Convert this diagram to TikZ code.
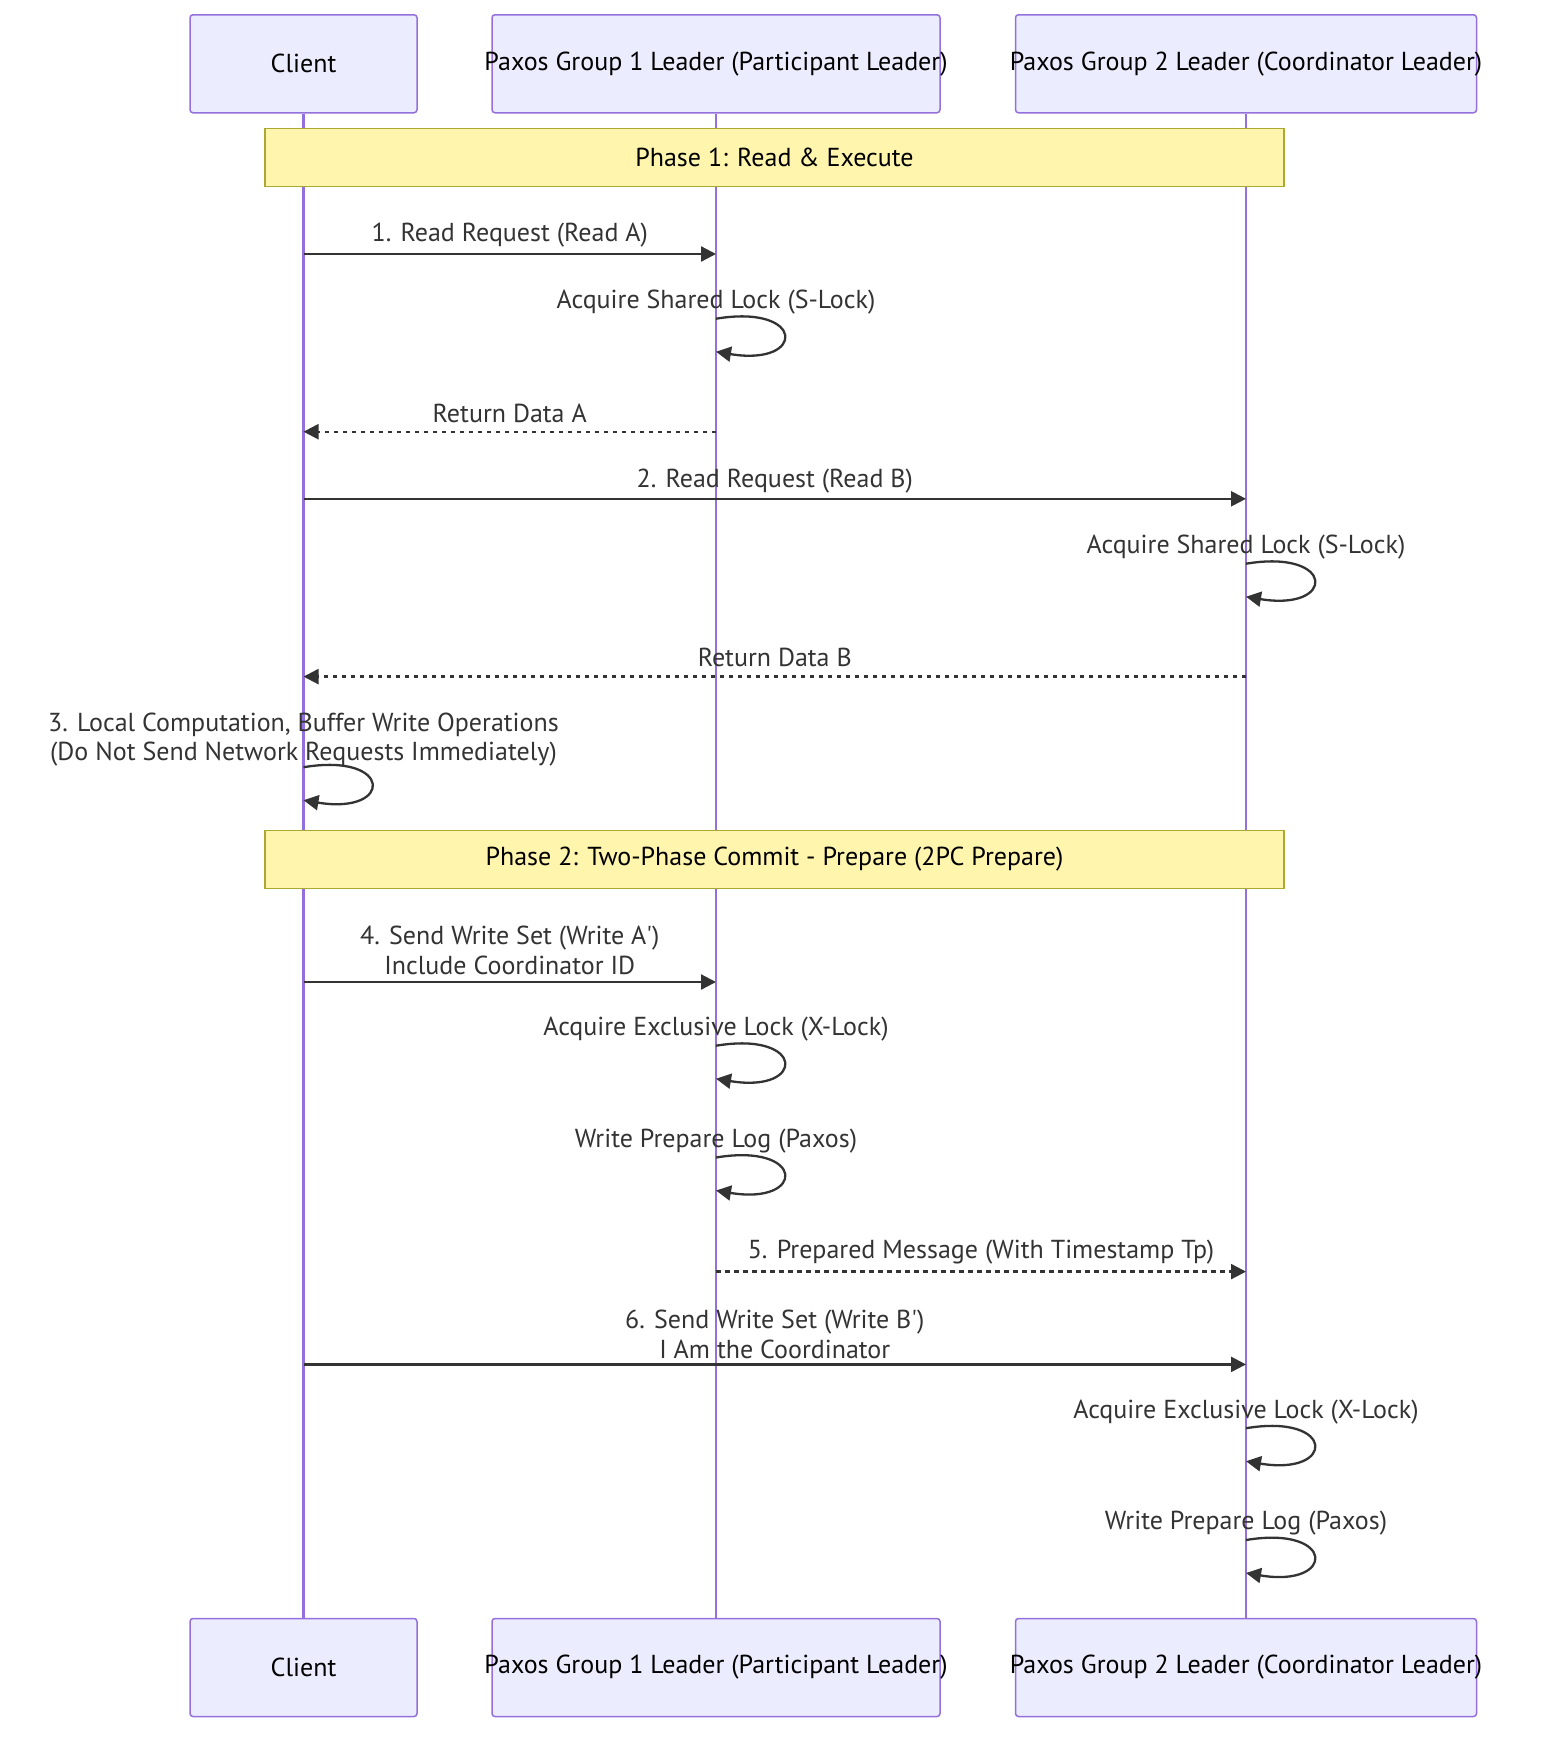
\documentclass[tikz,border=0pt]{standalone}
\usepackage{fontspec}
\setmainfont{PT Sans}
\usetikzlibrary{arrows.meta,positioning,calc}
\definecolor{actfill}{HTML}{ECECFF}
\definecolor{actline}{HTML}{9370DB}
\definecolor{notefill}{HTML}{FFF5AD}
\definecolor{noteline}{HTML}{AAAA33}
\definecolor{msgcol}{HTML}{333333}
\newcommand\lblfont{\fontsize{26}{29.5}\selectfont}
\newcommand\actname[1]{\makebox[0pt]{#1}} % はみ出しても箱の幅は変えない

\begin{document}
\begin{tikzpicture}[x=1pt,y=-1pt,
  actor/.style={draw=actline,fill=actfill,line width=1.5pt,rounded corners=3pt,minimum height=98pt,inner sep=0pt,font=\lblfont},
  note/.style={draw=noteline,fill=notefill,line width=1.5pt,minimum width=1019pt,minimum height=58pt,inner sep=0pt,font=\lblfont},
  lifeline/.style={draw=actline,line width=2.6pt},
  lbl/.style={text=msgcol,font=\lblfont,inner sep=0pt,yshift=-2.5pt},
  msg/.style={draw=msgcol,line width=2.3pt,-{Triangle[length=15pt,width=15pt]}},
  reply/.style={msg,dash pattern=on 4.5pt off 4.5pt}]
  \useasboundingbox (0,0) rectangle (1568,1754); % 画像全体の大きさ
  \node[actor,minimum width=227pt] (clT) at (303.5,63.75) {\actname{Client}}; % 上側の参加者
  \node[actor,minimum width=448pt] (paT) at (716,63.75) {\actname{Paxos Group 1 Leader (Participant Leader)}};
  \node[actor,minimum width=461pt] (pbT) at (1246,63.75) {\actname{Paxos Group 2 Leader (Coordinator Leader)}};
  \node[actor,minimum width=227pt] (clB) at (303.5,1667.5) {\actname{Client}}; % 下側の参加者
  \node[actor,minimum width=448pt] (paB) at (716,1667.5) {\actname{Paxos Group 1 Leader (Participant Leader)}};
  \node[actor,minimum width=461pt] (pbB) at (1246,1667.5) {\actname{Paxos Group 2 Leader (Coordinator Leader)}};
  \draw[lifeline] (clT) -- (clB); % ライフライン
  \draw[lifeline] (paT) -- (paB);
  \draw[lifeline] (pbT) -- (pbB);
  \node[note] (ph1) at (774.5,157.7) {Phase 1: Read \& Execute}; % フェーズの注記
  \node[note] (ph2) at (774.5,859.5) {Phase 2: Two-Phase Commit - Prepare (2PC Prepare)};
  \node[lbl] (m1) at (509.75,232.6) {1. Read Request (Read A)};
  \draw[msg] (clT |- 0,254) -- (paT |- 0,254);
  \node[lbl] (m2) at (509.75,410.5) {Return Data A};
  \draw[reply] (paT |- 0,431.7) -- (clT |- 0,431.7); % 破線は応答
  \node[lbl] (m3) at (774.75,478.7) {2. Read Request (Read B)};
  \draw[msg] (clT |- 0,498.8) -- (pbT |- 0,498.8);
  \node[lbl] (m4) at (774.75,655.4) {Return Data B};
  \draw[reply] (pbT |- 0,676.6) -- (clT |- 0,676.6);
  \node[lbl,align=center] (m5) at (303.5,737) {3. Local Computation, Buffer Write Operations\\(Do Not Send Network Requests Immediately)};
  \draw[msg] (clT |- 0,767.2) .. controls +(90,-15) and +(90,15) .. (clT |- 0,800.2); % 自分への矢印
  \node[lbl,align=center] (m6) at (509.75,948) {4. Send Write Set (Write A\textquotesingle)\\Include Coordinator ID};
  \draw[msg] (clT |- 0,982) -- (paT |- 0,982);
  \node[lbl] (m7) at (981,1249.2) {5. Prepared Message (With Timestamp Tp)};
  \draw[reply] (paT |- 0,1271.6) -- (pbT |- 0,1271.6);
  \node[lbl,align=center] (m8) at (774.75,1332) {6. Send Write Set (Write B\textquotesingle)\\I Am the Coordinator};
  \draw[msg] (clT |- 0,1364.4) -- (pbT |- 0,1364.4);
  \foreach \who/\y/\txt [count=\i] in {paT/299.7/{Acquire Shared Lock (S-Lock)},
      pbT/544.7/{Acquire Shared Lock (S-Lock)},
      paT/1026.7/{Acquire Exclusive Lock (X-Lock)},
      paT/1138.5/{Write Prepare Log (Paxos)},
      pbT/1409.2/{Acquire Exclusive Lock (X-Lock)},
      pbT/1521/{Write Prepare Log (Paxos)}}{
    \node[lbl] (self\i) at (\who |- 0,\y) {\txt};
    \draw[msg] (\who |- 0,\y+19) .. controls +(90,-15) and +(90,15) .. (\who |- 0,\y+52); % ロックとログの自己ループ
  }
\end{tikzpicture}
\end{document}
